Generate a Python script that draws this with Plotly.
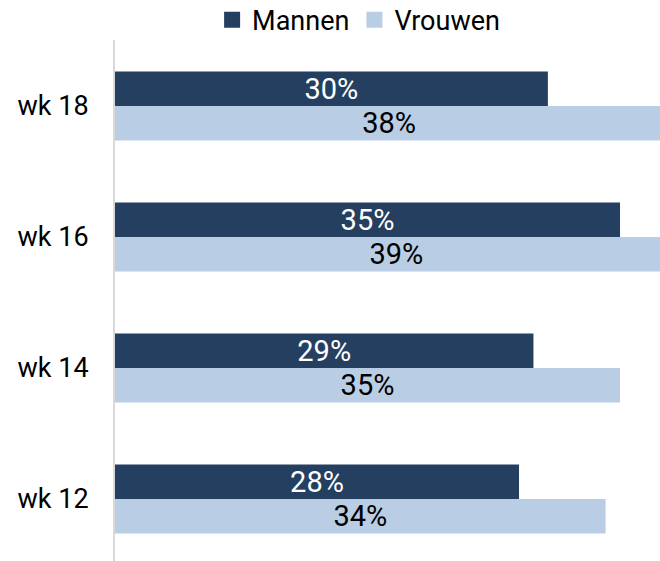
import plotly.graph_objects as go

categories = ["wk 12", "wk 14", "wk 16", "wk 18"]
mannen = [28, 29, 35, 30]
vrouwen = [34, 35, 39, 38]
series_names = ["Mannen", "Vrouwen"]

DARK = "#243F60"
LIGHT = "#B9CDE5"
FONT = "Roboto"
FS = 27
FS_LBL = 29

fig = go.Figure()
# Vrouwen first so it sits below Mannen within each group
fig.add_trace(go.Bar(
    y=categories, x=vrouwen, orientation="h", name=series_names[1],
    marker=dict(color=LIGHT, line=dict(width=0)),
    text=[f"{v}%" for v in vrouwen], textposition="inside",
    insidetextanchor="middle", textangle=0,
    insidetextfont=dict(color="#000000", size=FS_LBL, family=FONT),
    showlegend=False, hoverinfo="skip",
))
fig.add_trace(go.Bar(
    y=categories, x=mannen, orientation="h", name=series_names[0],
    marker=dict(color=DARK, line=dict(width=0)),
    text=[f"{v}%" for v in mannen], textposition="inside",
    insidetextanchor="middle", textangle=0,
    insidetextfont=dict(color="#FFFFFF", size=FS_LBL, family=FONT),
    showlegend=False, hoverinfo="skip",
))
# legend entries
for name, col in zip(series_names, [DARK, LIGHT]):
    fig.add_trace(go.Scatter(
        x=[None], y=[None], mode="markers", name=name,
        marker=dict(symbol="square", size=16, color=col),
        showlegend=True,
    ))

fig.update_layout(
    width=660, height=561,
    margin=dict(l=115, r=0, t=40, b=0, pad=0, autoexpand=False),
    paper_bgcolor="white", plot_bgcolor="white",
    barmode="group", bargap=0.473, bargroupgap=0,
    font=dict(family=FONT, size=FS, color="#000000"),
    uniformtext=dict(minsize=FS_LBL, mode="show"),
    legend=dict(
        orientation="h", x=0.447, xanchor="center", y=1.038, yanchor="middle",
        font=dict(size=FS, family=FONT, color="#000000"),
        itemwidth=30, tracegroupgap=0, bgcolor="rgba(0,0,0,0)",
    ),
    xaxis=dict(range=[0, 37.77], visible=False, showgrid=False, zeroline=False),
    yaxis=dict(
        type="category", categoryorder="array", categoryarray=categories,
        range=[-0.473, 3.504], showgrid=False, zeroline=False,
        showline=True, linecolor="#D9D9D9", linewidth=2,
        ticks="", ticklabelstandoff=19,
        tickfont=dict(size=FS, family=FONT, color="#000000"),
    ),
)

fig.write_html(
    "out.html",
    config={"displayModeBar": False},
    post_script="document.body.style.margin='0';document.body.style.overflow='hidden';",
)
